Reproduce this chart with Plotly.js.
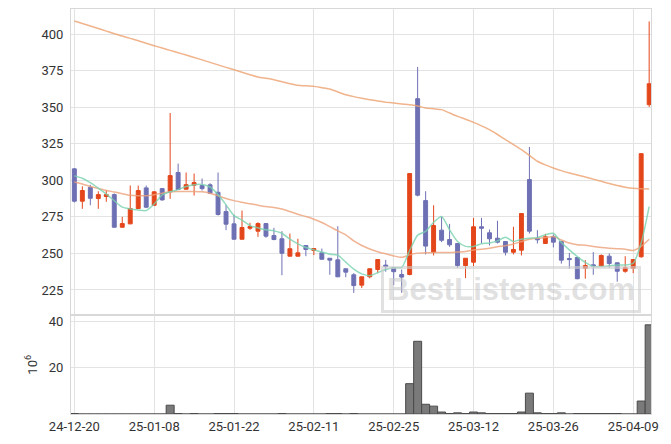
<!DOCTYPE html>
<html>
<head>
<meta charset="utf-8">
<script src="https://cdn.plot.ly/plotly-3.0.1.min.js"></script>
<style>
html,body{margin:0;padding:0;background:#fff;}
#chart{width:671px;height:444px;}
</style>
</head>
<body>
<div id="chart"></div>
<script>
const dates = ["24-12-20","24-12-23","24-12-24","24-12-26","24-12-27","24-12-30","25-01-02","25-01-03","25-01-06","25-01-07",
"25-01-08","25-01-09","25-01-10","25-01-13","25-01-14","25-01-15","25-01-16","25-01-17","25-01-20","25-01-21",
"25-01-22","25-01-23","25-01-24","25-01-31","25-02-03","25-02-04","25-02-05","25-02-06","25-02-07","25-02-10",
"25-02-11","25-02-12","25-02-13","25-02-14","25-02-17","25-02-18","25-02-19","25-02-20","25-02-21","25-02-24",
"25-02-25","25-02-26","25-02-27","25-02-28","25-03-04","25-03-05","25-03-06","25-03-07","25-03-10","25-03-11",
"25-03-12","25-03-13","25-03-14","25-03-17","25-03-18","25-03-19","25-03-20","25-03-21","25-03-24","25-03-25",
"25-03-26","25-03-27","25-03-28","25-03-31","25-04-01","25-04-02","25-04-03","25-04-04","25-04-07","25-04-08",
"25-04-09","25-04-10","25-04-11"];

const openP = [307.8,285.7,295.2,287.5,288.9,290.2,267.9,270.2,280.7,294.8,
282.9,294.3,292.1,305.3,293.9,296.6,296.4,296.9,291.8,278.6,
270.2,259.7,267.2,265.2,270.4,262.2,260.0,248.1,248.1,255.4,
252.0,250.4,246.7,245.6,239.5,235.4,228.3,234.0,239.0,242.0,
240.2,235.6,235.6,355.8,286.1,250.8,265.9,259.5,256.8,241.7,
244.0,268.2,264.1,260.4,258.1,250.8,252.2,300.5,260.4,256.8,
261.4,258.1,246.5,247.2,239.9,242.2,241.3,248.1,243.6,237.8,
239.9,247.7,351.7];
const highP = [308.2,295.9,296.9,292.5,293.0,291.0,275.0,296.4,296.4,296.4,
292.5,294.6,346.0,311.4,305.3,304.6,301.2,298.0,305.3,283.2,
276.5,279.3,270.9,271.3,270.6,267.5,265.2,263.6,260.0,255.6,
253.5,253.3,246.8,268.6,239.6,236.5,234.1,239.6,245.9,245.6,
240.3,239.0,304.8,377.5,292.5,282.9,275.0,270.2,257.0,246.8,
274.3,274.3,266.3,272.3,258.3,268.2,277.4,322.8,265.9,263.4,
263.0,258.2,250.4,247.3,245.4,250.9,249.3,250.0,243.7,248.1,
245.9,318.5,408.6];
const lowP = [284.8,280.5,282.9,280.5,285.3,267.5,267.6,270.0,280.5,281.0,
282.5,286.0,287.3,293.5,293.7,289.6,293.0,291.0,275.9,265.9,
259.6,259.5,266.1,261.3,260.7,259.0,235.1,248.0,248.0,248.1,
248.8,245.8,235.4,233.8,233.7,223.0,226.3,233.0,236.7,237.5,
228.3,223.1,235.0,289.0,249.3,248.6,257.7,254.5,240.2,233.1,
241.3,256.8,255.4,256.8,248.6,249.3,248.6,263.6,256.8,256.6,
254.1,243.0,239.5,232.3,232.7,235.4,241.2,240.2,230.7,236.8,
236.5,247.0,350.1];
const closeP = [285.7,293.0,287.7,290.2,290.2,267.9,270.4,280.7,293.0,281.6,
292.1,286.6,303.2,293.7,297.0,298.4,294.3,291.1,276.6,270.0,
259.7,267.7,268.4,270.4,261.8,259.5,250.1,253.2,250.4,252.7,
253.3,246.0,245.4,234.0,237.2,228.0,234.0,239.5,245.8,241.0,
237.5,233.8,304.6,289.8,255.0,269.1,259.0,255.9,241.7,246.7,
268.2,267.2,260.0,257.7,250.8,252.7,277.3,265.2,259.3,261.4,
257.7,245.4,245.8,232.7,241.7,241.3,248.6,243.1,237.8,240.2,
245.8,318.2,366.0];

const ma5 = [303.0,301.4,298.4,294.6,290.5,286.0,281.6,280.4,279.7,279.3,
283.8,290.0,292.1,293.6,295.8,297.0,297.1,295.4,290.2,283.2,
275.8,272.8,269.0,267.5,266.1,265.4,263.8,259.7,256.5,254.0,
252.4,251.0,249.5,248.8,244.0,239.3,236.0,234.8,236.8,239.0,
240.2,240.4,252.0,262.5,265.0,271.3,275.3,266.1,258.1,254.8,
254.8,256.6,257.1,258.6,261.1,258.1,259.7,260.4,260.8,262.7,
263.8,257.4,252.4,247.8,243.8,241.0,241.0,241.5,242.1,242.1,
243.3,257.1,282.0];
const ma20 = [298.8,297.4,295.8,294.4,293.0,292.0,290.8,289.7,289.4,289.4,
290.1,291.2,292.1,292.3,292.3,292.3,292.1,291.2,289.4,287.5,
286.1,285.0,283.9,283.0,282.0,281.4,280.3,278.6,276.8,275.2,
273.4,271.1,268.3,265.4,262.7,258.5,255.4,253.0,251.2,249.7,
248.3,247.3,249.0,250.2,250.4,250.6,250.6,250.6,250.9,251.3,
252.4,252.9,253.6,254.6,255.3,256.5,258.1,259.7,260.4,260.8,
261.5,259.2,257.1,255.9,255.6,254.8,254.1,253.6,253.2,252.9,
252.0,254.8,259.7];
const ma60 = [408.9,407.2,405.5,403.8,402.0,400.2,398.6,397.0,395.4,393.7,
392.0,390.4,388.8,387.2,385.6,384.0,382.3,380.6,378.9,377.2,
375.6,373.9,372.2,370.6,369.7,368.8,367.4,366.0,364.9,364.6,
364.2,363.3,362.4,360.4,358.5,357.2,356.1,355.1,354.2,353.4,
352.8,352.2,351.7,350.8,349.4,348.9,348.3,346.0,343.7,341.7,
339.6,337.2,334.6,331.3,327.8,324.4,320.9,317.0,313.0,310.5,
308.4,306.6,305.0,303.6,302.3,300.8,299.3,297.8,296.4,295.3,
294.5,294.2,294.1];

const volume = [0.2,0,0,0,0,0,0,0,0,0,
0,0,3.8,0.2,0,0.2,0,0,0.2,0.2,
0.2,0,0,0,0,0,0.2,0,0,0,
0,0,0.2,0.2,0,0.2,0,0,0,0,
0,0,13.1,31.4,4.2,3.4,0.85,0.2,0.5,0.2,
0.85,0.5,0.2,0.2,0.2,0.2,0.85,9.0,0.5,0.2,
0.2,0.5,0,0.2,0.2,0.2,0.2,0.2,0.2,0,
0,5.6,38.5];

const priceTicks = [225,250,275,300,325,350,375,400];
const volTicks = [20,40];
const xTickLabels = ["24-12-20","25-01-08","25-01-22","25-02-11","25-02-25","25-03-12","25-03-26","25-04-09"];

const UP = '#e4461b', DOWN = '#6e70b4';
const gridC = '#e3e3e3';
const font = {family:'Roboto, "DejaVu Sans", sans-serif', size:13, color:'#333'};

const traces = [
  {type:'scatter', mode:'lines', x:dates, y:ma60, xaxis:'x', yaxis:'y',
   line:{color:'rgba(236,160,110,0.8)', width:1.5, shape:'spline', smoothing:0.6}, hoverinfo:'skip'},
  {type:'scatter', mode:'lines', x:dates, y:ma20, xaxis:'x', yaxis:'y',
   line:{color:'rgba(236,160,120,0.8)', width:1.5, shape:'spline', smoothing:0.6}, hoverinfo:'skip'},
  {type:'scatter', mode:'lines', x:dates, y:ma5, xaxis:'x', yaxis:'y',
   line:{color:'rgba(120,210,175,0.8)', width:1.5, shape:'spline', smoothing:0.6}, hoverinfo:'skip'},
  {type:'candlestick', x:dates, open:openP, high:highP, low:lowP, close:closeP, xaxis:'x', yaxis:'y',
   increasing:{line:{color:UP, width:1}, fillcolor:UP},
   decreasing:{line:{color:DOWN, width:1}, fillcolor:DOWN},
   whiskerwidth:0, hoverinfo:'skip'},
  {type:'bar', x:dates, y:volume, xaxis:'x', yaxis:'y2',
   marker:{color:'#7a7a7a', line:{color:'#4a4a4a', width:1}}, hoverinfo:'skip'}
];

const layout = {
  width:671, height:444,
  margin:{l:71, r:20, t:9, b:30},
  paper_bgcolor:'#fff', plot_bgcolor:'#fff',
  showlegend:false, font:font, bargap:0,
  xaxis:{type:'category', anchor:'y2', range:[-0.42,72.23],
    tickmode:'array', tickvals:xTickLabels, ticktext:xTickLabels,
    showgrid:true, gridcolor:gridC, showline:true, linecolor:'#d8d8d8', mirror:'all',
    ticks:'', tickfont:font, rangeslider:{visible:false}, zeroline:false},
  yaxis:{domain:[0.247,1], range:[208.6,417.1], tickmode:'array', tickvals:priceTicks,
    showgrid:true, gridcolor:gridC, showline:true, linecolor:'#d8d8d8', mirror:'all',
    ticks:'outside', ticklen:4, tickcolor:'rgba(0,0,0,0)', tickfont:font, zeroline:false},
  yaxis2:{domain:[0,0.243], range:[0,42.5], tickmode:'array', tickvals:volTicks,
    showgrid:true, gridcolor:gridC, showline:true, linecolor:'#d8d8d8', mirror:'all',
    ticks:'outside', ticklen:4, tickcolor:'rgba(0,0,0,0)', tickfont:font, zeroline:false,
    title:{text:'10<sup>6</sup>', font:font, standoff:8}},
  annotations:[{xref:'paper', yref:'paper', x:0.758, y:0.308, xanchor:'center', yanchor:'middle',
    text:'<b>BestListens.com</b>', showarrow:false,
    font:{family:'"Liberation Sans", Arial, sans-serif', size:31, color:'rgba(200,200,200,0.55)'},
    bordercolor:'rgba(205,205,205,0.6)', borderwidth:3, borderpad:3}]
};

Plotly.newPlot('chart', traces, layout, {displayModeBar:false, staticPlot:true});
</script>
</body>
</html>
